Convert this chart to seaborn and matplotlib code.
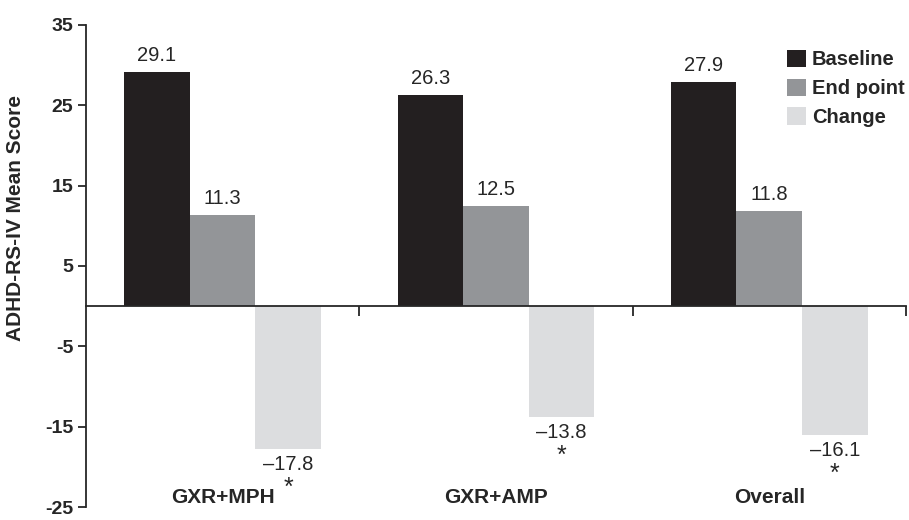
import matplotlib
matplotlib.use("Agg")
import matplotlib.pyplot as plt
import pandas as pd
import seaborn as sns

groups = ["GXR+MPH", "GXR+AMP", "Overall"]
measures = ["Baseline", "End point", "Change"]
baseline = [29.1, 26.3, 27.9]
end_point = [11.3, 12.5, 11.8]
change = [-17.8, -13.8, -16.1]
colors = ["#231f20", "#939598", "#dcdddf"]


def main():
    sns.set_theme(style="ticks")
    plt.rcParams["font.family"] = ["Liberation Sans", "DejaVu Sans"]

    df = pd.DataFrame({
        "group": groups * 3,
        "measure": [m for m in measures for _ in groups],
        "score": baseline + end_point + change,
    })

    fig = plt.figure(figsize=(9.09, 5.2), dpi=100)
    ax = fig.add_axes([0.0946, 0.025, 0.902, 0.927])
    sns.barplot(data=df, x="group", y="score", hue="measure", order=groups,
                hue_order=measures, palette=colors, saturation=1, width=0.72,
                linewidth=0, errorbar=None, ax=ax)

    # value labels (+ significance star under the change bars)
    for cont, vals in zip(ax.containers, [baseline, end_point, change]):
        if vals[0] > 0:
            ax.bar_label(cont, labels=[f"{v:.1f}" for v in vals], padding=5, fontsize=14.5)
        else:
            ax.bar_label(cont, labels=[f"\u2013{abs(v):.1f}" for v in vals], padding=4,
                         fontsize=14.5)
            ax.bar_label(cont, labels=["*"] * len(vals), padding=19, fontsize=18)

    ax.set_xlim(-0.5, 2.5)
    ax.set_ylim(-25, 35)
    ax.set_yticks([-25, -15, -5, 5, 15, 25, 35])
    ax.set_yticklabels(["-25", "-15", "-5", "5", "15", "25", "35"], fontweight="bold", fontsize=14)
    ax.tick_params(axis="y", direction="out", length=6, width=1.3, pad=3)

    ax.spines["top"].set_visible(False)
    ax.spines["right"].set_visible(False)
    ax.spines["bottom"].set_position(("data", 0))
    ax.spines["left"].set_linewidth(1.3)
    ax.spines["bottom"].set_linewidth(1.3)
    ax.set_xticks([0.5, 1.5, 2.5])
    ax.set_xticklabels(["", "", ""])
    ax.tick_params(axis="x", direction="out", length=7, width=1.3)
    ax.set_xlabel("")
    ax.set_ylabel("ADHD-RS-IV Mean Score", fontweight="bold", fontsize=15)
    ax.yaxis.set_label_coords(-0.074, 0.6)

    for i, g in enumerate(groups):
        ax.text(i, -25, g, ha="center", va="bottom", fontweight="bold", fontsize=15)

    leg = ax.legend(loc="upper right", bbox_to_anchor=(1.008, 0.965), frameon=False,
                    handlelength=0.95, handleheight=0.95, handletextpad=0.3,
                    labelspacing=0.45, borderaxespad=0,
                    prop={"weight": "bold", "size": 14.5})
    leg.set_title(None)

    fig.savefig("out.png", dpi=100)
    plt.close(fig)


if __name__ == '__main__':
    main()
